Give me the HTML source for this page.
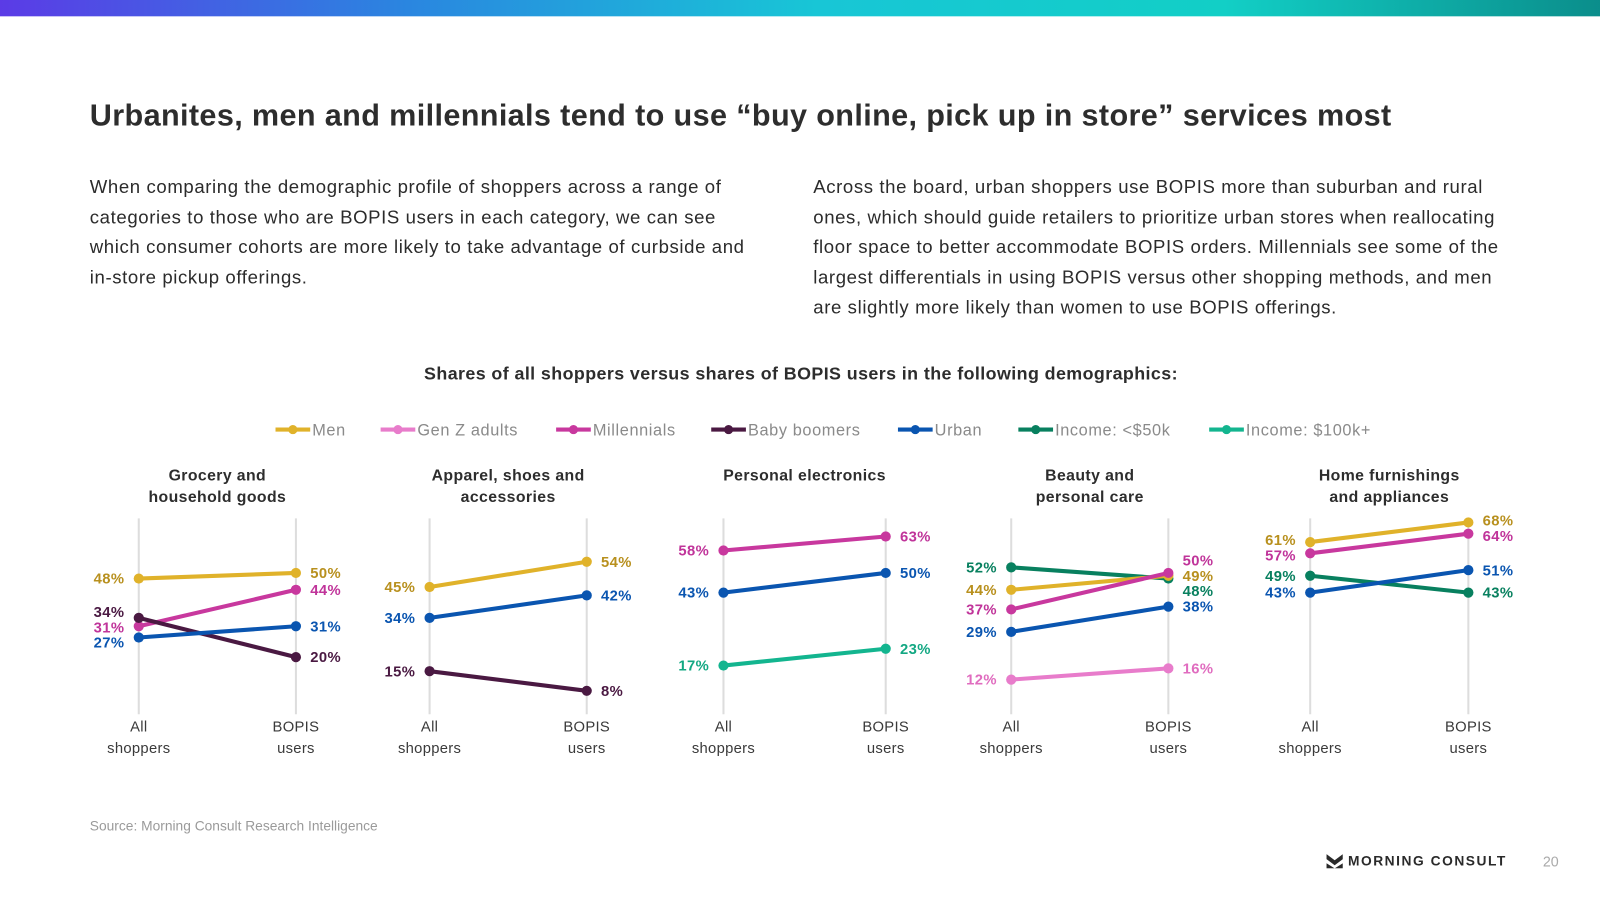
<!DOCTYPE html>
<html><head><meta charset="utf-8">
<style>
body{margin:0;width:1600px;height:900px;background:#fff;font-family:"Liberation Sans",sans-serif;position:relative;overflow:hidden;color:#2b2b2b}
#wrap{position:absolute;left:0;top:0;width:1600px;height:900px;transform:scale(1.0204);transform-origin:0 0}
.bar{position:absolute;left:0;top:0;width:1600px;height:16px;background:linear-gradient(90deg,#5b3be6 0%,#2a86e0 25%,#18c6d6 50%,#12cfc6 75%,#0a8886 100%)}
h1{position:absolute;left:88px;top:97px;margin:0;font-size:30px;letter-spacing:0.35px;font-weight:bold;color:#2d2d2d;white-space:nowrap}
.p{position:absolute;top:169px;font-size:18.2px;letter-spacing:0.6px;line-height:29.5px;color:#2b2b2b;margin:0}
.sub{position:absolute;left:0;width:1570px;top:356px;text-align:center;font-size:17.5px;letter-spacing:0.4px;font-weight:bold;color:#2d2d2d}
.src{position:absolute;left:88px;top:802px;font-size:13.5px;color:#9a9a9a}
.logo{position:absolute;left:1300px;top:836px;font-size:13.5px;font-weight:bold;letter-spacing:1.5px;color:#2a2a2a;display:flex;align-items:center;gap:5px}
.pg{position:absolute;left:1512px;top:836px;font-size:14px;color:#aaa}
</style></head><body>
<div id="wrap">
<div class="bar"></div>
<h1>Urbanites, men and millennials tend to use “buy online, pick up in store” services most</h1>
<p class="p" style="left:88px;width:662px">When comparing the demographic profile of shoppers across a range of categories to those who are BOPIS users in each category, we can see which consumer cohorts are more likely to take advantage of curbside and in-store pickup offerings.</p>
<p class="p" style="left:797px;width:690px">Across the board, urban shoppers use BOPIS more than suburban and rural ones, which should guide retailers to prioritize urban stores when reallocating floor space to better accommodate BOPIS orders. Millennials see some of the largest differentials in using BOPIS versus other shopping methods, and men are slightly more likely than women to use BOPIS offerings.</p>
<div class="sub">Shares of all shoppers versus shares of BOPIS users in the following demographics:</div>
<svg id="chart" width="1600" height="900" style="position:absolute;left:0;top:0"></svg>
<div class="src">Source: Morning Consult Research Intelligence</div>
<div class="logo"><svg width="16" height="14" viewBox="0 0 16 14"><path d="M0 0 L8 6 L16 0 L16 5 L8 11 L0 5Z M0 9 L8 14 L16 9 L16 14 L0 14Z" fill="#2a2a2a"/></svg>MORNING CONSULT</div>
<div class="pg">20</div>
</div>
<script>
const seriesNames=["Men","Gen Z adults","Millennials","Baby boomers","Urban","Income: <$50k","Income: $100k+"];
const seriesColors=["#e0b22a","#e87ccb","#c8389e","#4a1942","#0a55b0","#08805f","#13b58f"];
const labelColors=["#b8901e","#e06cbf","#c0349a","#4a1942","#0a55b0","#08805f","#13a883"];
const panelTitles=[["Grocery and","household goods"],["Apparel, shoes and","accessories"],["Personal electronics"],["Beauty and","personal care"],["Home furnishings","and appliances"]];
const grocerySeries=[0,2,3,4];
const groceryAll=[48,31,34,27];
const groceryBopis=[50,44,20,31];
const apparelSeries=[0,4,3];
const apparelAll=[45,34,15];
const apparelBopis=[54,42,8];
const electronicsSeries=[2,4,6];
const electronicsAll=[58,43,17];
const electronicsBopis=[63,50,23];
const beautySeries=[5,0,2,4,1];
const beautyAll=[52,44,37,29,12];
const beautyBopis=[48,49,50,38,16];
const homeSeries=[0,2,5,4];
const homeAll=[61,57,49,43];
const homeBopis=[68,64,43,51];
const categories=["All shoppers","BOPIS users"];

const panels=[
 {s:grocerySeries,a:groceryAll,b:groceryBopis,x0:136,x1:290},
 {s:apparelSeries,a:apparelAll,b:apparelBopis,x0:421,x1:575},
 {s:electronicsSeries,a:electronicsAll,b:electronicsBopis,x0:709,x1:868},
 {s:beautySeries,a:beautyAll,b:beautyBopis,x0:991,x1:1145},
 {s:homeSeries,a:homeAll,b:homeBopis,x0:1284,x1:1439}
];
const svg=document.getElementById('chart');
const NS="http://www.w3.org/2000/svg";
function yScale(v){return 699-2.75*v;}
function mk(t,attrs,parent){const e=document.createElementNS(NS,t);for(const k in attrs)e.setAttribute(k,attrs[k]);(parent||svg).appendChild(e);return e;}
function txt(x,y,s,attrs){const e=mk('text',Object.assign({x:x,y:y,'font-family':'Liberation Sans, sans-serif'},attrs));e.textContent=s;return e;}
function spread(ys){const o=ys.map((y,i)=>({y,i}));for(let it=0;it<100;it++){o.sort((p,q)=>p.y-q.y);for(let k=1;k<o.length;k++){const d=o[k].y-o[k-1].y;if(d<15){const m=(15-d)/2;o[k].y+=m;o[k-1].y-=m;}}}const r=[];o.forEach(p=>r[p.i]=p.y);return r;}

// legend
const legendX=[270,373,545,697,880,998,1185];
seriesNames.forEach((n,i)=>{
 const lx=legendX[i];
 const g=mk('g',{});
 
 
 mk('line',{x1:lx,y1:421,x2:lx+34,y2:421,stroke:seriesColors[i],'stroke-width':4},g);
 mk('circle',{cx:lx+17,cy:421,r:4.5,fill:seriesColors[i]},g);
 g.appendChild(txt(lx+36,427,n,{'font-size':16,'letter-spacing':0.6,fill:'#8a8a8a'}));
});

panels.forEach((p,pi)=>{
 const g=mk('g',{});
 
 
 const cx=(p.x0+p.x1)/2;
 panelTitles[pi].forEach((l,k)=>{g.appendChild(txt(cx,471+k*21,l,{'font-size':15.5,'letter-spacing':0.4,'font-weight':'bold','text-anchor':'middle',fill:'#2d2d2d'}));});
 [p.x0,p.x1].forEach((x,k)=>{
  mk('line',{x1:x,y1:508,x2:x,y2:700,stroke:'#dddddd','stroke-width':2},g);
  const w=categories[k].split(' ');
  g.appendChild(txt(x,717,w[0],{'font-size':14.5,'letter-spacing':0.3,'text-anchor':'middle',fill:'#3a3a3a'}));
  g.appendChild(txt(x,738,w[1],{'font-size':14.5,'letter-spacing':0.3,'text-anchor':'middle',fill:'#3a3a3a'}));
 });
 const la=spread(p.a.map(yScale)), lb=spread(p.b.map(yScale));
 p.s.forEach((si,k)=>{
  const y0=yScale(p.a[k]),y1=yScale(p.b[k]);
  const line=mk('line',{x1:p.x0,y1:y0,x2:p.x1,y2:y1,stroke:seriesColors[si],'stroke-width':4},g);
  
  
  mk('circle',{cx:p.x0,cy:y0,r:5,fill:seriesColors[si]},g);
  mk('circle',{cx:p.x1,cy:y1,r:5,fill:seriesColors[si]},g);
  g.appendChild(txt(p.x0-14,la[k]+5,p.a[k]+'%',{'font-size':14.5,'letter-spacing':0.4,'font-weight':'bold','text-anchor':'end',fill:labelColors[si]}));
  g.appendChild(txt(p.x1+14,lb[k]+5,p.b[k]+'%',{'font-size':14.5,'letter-spacing':0.4,'font-weight':'bold',fill:labelColors[si]}));
 });
});
</script>
</body></html>
